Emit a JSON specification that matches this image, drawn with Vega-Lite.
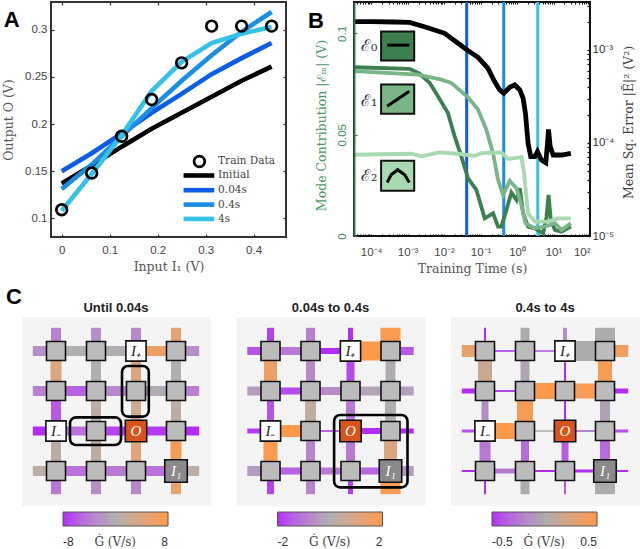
{
"$schema":"https://vega.github.io/schema/vega-lite/v6.json",
"padding":{"left":1,"top":-4,"right":0,"bottom":0},
"config":{"axis":{"grid":false,"domain":false,"tickColor":"#333","tickWidth":1.2,"tickSize":-3,"labelFont":"Liberation Sans","labelFontSize":11.5,"labelColor":"#444","titleFont":"DejaVu Serif","titleFontWeight":"normal","titleFontSize":12.5,"titleColor":"#555"}},
"datasets":{
"curves":[
{"series":"Initial","x":0,"y":0.137},{"series":"Initial","x":0.0625,"y":0.156},{"series":"Initial","x":0.125,"y":0.176},{"series":"Initial","x":0.1875,"y":0.195},{"series":"Initial","x":0.25,"y":0.212},{"series":"Initial","x":0.3125,"y":0.229},{"series":"Initial","x":0.375,"y":0.246},{"series":"Initial","x":0.4375,"y":0.261},
{"series":"0.04s","x":0,"y":0.15},{"series":"0.04s","x":0.0625,"y":0.169},{"series":"0.04s","x":0.125,"y":0.19},{"series":"0.04s","x":0.1875,"y":0.212},{"series":"0.04s","x":0.25,"y":0.232},{"series":"0.04s","x":0.3125,"y":0.253},{"series":"0.04s","x":0.375,"y":0.27},{"series":"0.04s","x":0.4375,"y":0.286},
{"series":"0.4s","x":0,"y":0.131},{"series":"0.4s","x":0.0625,"y":0.157},{"series":"0.4s","x":0.125,"y":0.187},{"series":"0.4s","x":0.1875,"y":0.217},{"series":"0.4s","x":0.25,"y":0.246},{"series":"0.4s","x":0.3125,"y":0.273},{"series":"0.4s","x":0.375,"y":0.298},{"series":"0.4s","x":0.4375,"y":0.319},
{"series":"4s","x":0,"y":0.108},{"series":"4s","x":0.0625,"y":0.147},{"series":"4s","x":0.125,"y":0.188},{"series":"4s","x":0.1875,"y":0.235},{"series":"4s","x":0.25,"y":0.266},{"series":"4s","x":0.3125,"y":0.286},{"series":"4s","x":0.375,"y":0.296},{"series":"4s","x":0.4375,"y":0.303}],
"train":[{"x":0,"y":0.109},{"x":0.0625,"y":0.148},{"x":0.125,"y":0.187},{"x":0.1875,"y":0.226},{"x":0.25,"y":0.265},{"x":0.3125,"y":0.304},{"x":0.375,"y":0.304},{"x":0.4375,"y":0.304},{"x":0.287,"y":0.1603}],
"legendA":[{"series":"Initial","label":"Initial","x":0.254,"x2":0.318,"xt":0.326,"y":0.1454},{"series":"0.04s","label":"0.04s","x":0.254,"x2":0.318,"xt":0.326,"y":0.1298},{"series":"0.4s","label":"0.4s","x":0.254,"x2":0.318,"xt":0.326,"y":0.1145},{"series":"4s","label":"4s","x":0.254,"x2":0.318,"xt":0.326,"y":0.0993},{"series":"Train Data","label":"Train Data","x":0.254,"x2":0.254,"xt":0.326,"y":0.1603}],
"modes":[
{"mode":"E0","t":3.48e-5,"v":0.0833},{"mode":"E0","t":1.13e-3,"v":0.0825},{"mode":"E0","t":2.13e-3,"v":0.0802},{"mode":"E0","t":4.01e-3,"v":0.0756},{"mode":"E0","t":6.79e-3,"v":0.069},{"mode":"E0","t":1.28e-2,"v":0.0607},{"mode":"E0","t":1.95e-2,"v":0.0492},{"mode":"E0","t":2.97e-2,"v":0.0393},{"mode":"E0","t":4.53e-2,"v":0.0285},{"mode":"E0","t":7.67e-2,"v":0.0228},{"mode":"E0","t":0.13,"v":0.00875},{"mode":"E0","t":0.22,"v":0.0112},{"mode":"E0","t":0.302,"v":0.0046},{"mode":"E0","t":0.372,"v":0.0046},{"mode":"E0","t":0.512,"v":0.0129},{"mode":"E0","t":0.701,"v":0.0215},{"mode":"E0","t":0.964,"v":0.0178},{"mode":"E0","t":1.19,"v":0.0236},{"mode":"E0","t":1.47,"v":0.0112},{"mode":"E0","t":2.01,"v":0.0046},{"mode":"E0","t":3.07,"v":0.0038},{"mode":"E0","t":5.2,"v":0.0013},{"mode":"E0","t":6.43,"v":0.0095},{"mode":"E0","t":7.29,"v":0.0203},{"mode":"E0","t":8.45,"v":0.0079},{"mode":"E0","t":10.9,"v":0.003},{"mode":"E0","t":16.6,"v":0.0021},{"mode":"E0","t":29.9,"v":0.0046},
{"mode":"E1","t":3.48e-5,"v":0.0814},{"mode":"E1","t":1.91e-3,"v":0.0797},{"mode":"E1","t":8.38e-3,"v":0.0772},{"mode":"E1","t":1.58e-2,"v":0.0756},{"mode":"E1","t":4.53e-2,"v":0.0685},{"mode":"E1","t":8.51e-2,"v":0.0624},{"mode":"E1","t":0.144,"v":0.0525},{"mode":"E1","t":0.22,"v":0.0409},{"mode":"E1","t":0.302,"v":0.0277},{"mode":"E1","t":0.414,"v":0.0203},{"mode":"E1","t":0.631,"v":0.0272},{"mode":"E1","t":0.964,"v":0.0236},{"mode":"E1","t":1.32,"v":0.0153},{"mode":"E1","t":1.7,"v":0.0063},{"mode":"E1","t":3.07,"v":0.0038},{"mode":"E1","t":5.78,"v":0.0046},{"mode":"E1","t":10.9,"v":0.0063},{"mode":"E1","t":16.6,"v":0.003},{"mode":"E1","t":29.9,"v":0.0063},
{"mode":"E2","t":3.48e-5,"v":0.0401},{"mode":"E2","t":1.26e-3,"v":0.0406},{"mode":"E2","t":2.37e-3,"v":0.0393},{"mode":"E2","t":7.53e-3,"v":0.0413},{"mode":"E2","t":2.41e-2,"v":0.0406},{"mode":"E2","t":0.069,"v":0.0396},{"mode":"E2","t":0.105,"v":0.0409},{"mode":"E2","t":0.372,"v":0.0413},{"mode":"E2","t":0.569,"v":0.038},{"mode":"E2","t":1.32,"v":0.0389},{"mode":"E2","t":1.56,"v":0.031},{"mode":"E2","t":2.01,"v":0.0112},{"mode":"E2","t":3.07,"v":0.0071},{"mode":"E2","t":7.13,"v":0.0071},{"mode":"E2","t":13.4,"v":0.0087},{"mode":"E2","t":29.9,"v":0.0087}],
"mse":[{"t":3.48e-5,"e":2.02e-3},{"t":1e-4,"e":2.02e-3},{"t":4.37e-4,"e":2.0e-3},{"t":1.13e-3,"e":1.98e-3},{"t":2.92e-3,"e":1.78e-3},{"t":1.04e-2,"e":1.51e-3},{"t":2.41e-2,"e":1.18e-3},{"t":4.53e-2,"e":9.84e-4},{"t":8.51e-2,"e":8.34e-4},{"t":0.16,"e":6.35e-4},{"t":0.244,"e":4.56e-4},{"t":0.336,"e":3.72e-4},{"t":0.432,"e":3.42e-4},{"t":0.631,"e":3.97e-4},{"t":0.867,"e":4.21e-4},{"t":1.19,"e":3.72e-4},{"t":1.47,"e":3.02e-4},{"t":1.7,"e":2.08e-4},{"t":2.01,"e":9.9e-5},{"t":2.38,"e":7.13e-5},{"t":3.07,"e":7.13e-5},{"t":3.63,"e":8.07e-5},{"t":4.68,"e":6.56e-5},{"t":6.15,"e":6.15e-5},{"t":6.84,"e":9.9e-5},{"t":7.29,"e":1.4e-4},{"t":8.1,"e":9.14e-5},{"t":9.79,"e":7.43e-5},{"t":16.6,"e":7.43e-5},{"t":29.9,"e":7.74e-5}],
"times":[{"series":"0.04s","t":0.0417},{"series":"0.4s","t":0.432},{"series":"4s","t":3.7}],
"icons":[{"mode":"E0","t":1.88e-4,"t2":1.52e-3,"v":0.101,"v2":0.0866},{"mode":"E1","t":1.88e-4,"t2":1.52e-3,"v":0.0748,"v2":0.0604},{"mode":"E2","t":1.88e-4,"t2":1.52e-3,"v":0.0371,"v2":0.0223}],
"iconCurves":[{"k":"a","t":2.75e-4,"v":0.0942},{"k":"a","t":1.12e-3,"v":0.0942},{"k":"b","t":2.75e-4,"v":0.064},{"k":"b","t":1.12e-3,"v":0.0714},{"k":"c","t":2.75e-4,"v":0.0264},{"k":"c","t":3.55e-4,"v":0.0302},{"k":"c","t":5.37e-4,"v":0.0327},{"k":"c","t":8.3e-4,"v":0.0302},{"k":"c","t":1.12e-3,"v":0.0264}],
"iconLabels":[{"label":"ℰ₀","t":8.9e-5,"v":0.0937},{"label":"ℰ₁","t":8.9e-5,"v":0.0665},{"label":"ℰ₂","t":8.9e-5,"v":0.0295}],
"nodes":[{"x":0,"y":0,"kind":"node"},{"x":1,"y":0,"kind":"node"},{"x":2,"y":0,"kind":"input"},{"x":3,"y":0,"kind":"node"},{"x":0,"y":1,"kind":"node"},{"x":1,"y":1,"kind":"node"},{"x":2,"y":1,"kind":"node"},{"x":3,"y":1,"kind":"node"},{"x":0,"y":2,"kind":"input"},{"x":1,"y":2,"kind":"node"},{"x":2,"y":2,"kind":"output"},{"x":3,"y":2,"kind":"node"},{"x":0,"y":3,"kind":"node"},{"x":1,"y":3,"kind":"node"},{"x":2,"y":3,"kind":"node"},{"x":3,"y":3,"kind":"train"}],
"darkLabels":[{"x":2,"y":0,"label":"I₊"},{"x":0,"y":2,"label":"I₋"}],
"lightLabels":[{"x":2,"y":2,"label":"O"},{"x":3,"y":3,"label":"I₁"}],
"edges1":[
{"x":-0.58,"x2":0,"y":0,"y2":0,"v":-2.5,"g":10},{"x":0,"x2":1,"y":0,"y2":0,"v":0,"g":10},{"x":1,"x2":2,"y":0,"y2":0,"v":-0.2,"g":10},{"x":2,"x2":3,"y":0,"y2":0,"v":6,"g":10},{"x":3,"x2":3.58,"y":0,"y2":0,"v":-2.5,"g":10},
{"x":-0.58,"x2":0,"y":1,"y2":1,"v":-3.5,"g":10},{"x":0,"x2":1,"y":1,"y2":1,"v":-5.5,"g":10},{"x":1,"x2":2,"y":1,"y2":1,"v":-3,"g":10},{"x":2,"x2":3,"y":1,"y2":1,"v":-0.5,"g":10},{"x":3,"x2":3.58,"y":1,"y2":1,"v":-3.5,"g":10},
{"x":-0.58,"x2":0,"y":2,"y2":2,"v":-8,"g":9},{"x":0,"x2":1,"y":2,"y2":2,"v":-4.5,"g":9},{"x":1,"x2":2,"y":2,"y2":2,"v":-7,"g":9},{"x":2,"x2":3,"y":2,"y2":2,"v":-7.5,"g":9},{"x":3,"x2":3.58,"y":2,"y2":2,"v":-8,"g":9},
{"x":-0.58,"x2":0,"y":3,"y2":3,"v":1,"g":10},{"x":0,"x2":1,"y":3,"y2":3,"v":-4.5,"g":10},{"x":1,"x2":2,"y":3,"y2":3,"v":-4,"g":10},{"x":2,"x2":3,"y":3,"y2":3,"v":-4.5,"g":10},{"x":3,"x2":3.58,"y":3,"y2":3,"v":1,"g":10},
{"x":0,"x2":0,"y":-0.58,"y2":0,"v":-3.5,"g":10},{"x":0,"x2":0,"y":0,"y2":1,"v":4,"g":11},{"x":0,"x2":0,"y":1,"y2":2,"v":-6,"g":10},{"x":0,"x2":0,"y":2,"y2":3,"v":1,"g":10},{"x":0,"x2":0,"y":3,"y2":3.58,"v":-4,"g":10},
{"x":1,"x2":1,"y":-0.58,"y2":0,"v":-2.5,"g":10},{"x":1,"x2":1,"y":0,"y2":1,"v":0,"g":10},{"x":1,"x2":1,"y":1,"y2":2,"v":1,"g":10},{"x":1,"x2":1,"y":2,"y2":3,"v":1.2,"g":10},{"x":1,"x2":1,"y":3,"y2":3.58,"v":-2.5,"g":10},
{"x":2,"x2":2,"y":-0.58,"y2":0,"v":-3,"g":10},{"x":2,"x2":2,"y":0,"y2":1,"v":4,"g":10},{"x":2,"x2":2,"y":1,"y2":2,"v":2.5,"g":10},{"x":2,"x2":2,"y":2,"y2":3,"v":4.5,"g":10},{"x":2,"x2":2,"y":3,"y2":3.58,"v":-3,"g":10},
{"x":3,"x2":3,"y":-0.58,"y2":0,"v":5,"g":10},{"x":3,"x2":3,"y":0,"y2":1,"v":0,"g":10},{"x":3,"x2":3,"y":1,"y2":2,"v":1,"g":10},{"x":3,"x2":3,"y":2,"y2":3,"v":7,"g":11},{"x":3,"x2":3,"y":3,"y2":3.58,"v":5.5,"g":10}],
"edges2":[
{"x":-0.58,"x2":0,"y":0,"y2":0,"v":-1.6,"g":8},{"x":0,"x2":1,"y":0,"y2":0,"v":-1,"g":8},{"x":1,"x2":2,"y":0,"y2":0,"v":-2,"g":6},{"x":2,"x2":3,"y":0,"y2":0,"v":2,"g":19},{"x":3,"x2":3.58,"y":0,"y2":0,"v":-1.5,"g":8},
{"x":-0.58,"x2":0,"y":1,"y2":1,"v":-0.4,"g":9},{"x":0,"x2":1,"y":1,"y2":1,"v":-1.7,"g":7},{"x":1,"x2":2,"y":1,"y2":1,"v":-0.7,"g":8},{"x":2,"x2":3,"y":1,"y2":1,"v":-0.2,"g":9},{"x":3,"x2":3.58,"y":1,"y2":1,"v":-0.3,"g":9},
{"x":-0.58,"x2":0,"y":2,"y2":2,"v":-1.9,"g":5},{"x":0,"x2":1,"y":2,"y2":2,"v":2,"g":12},{"x":1,"x2":2,"y":2,"y2":2,"v":-2,"g":1.5},{"x":2,"x2":3,"y":2,"y2":2,"v":-2,"g":6},{"x":3,"x2":3.58,"y":2,"y2":2,"v":-2,"g":5},
{"x":-0.58,"x2":0,"y":3,"y2":3,"v":-0.4,"g":10},{"x":0,"x2":1,"y":3,"y2":3,"v":-1.4,"g":7},{"x":1,"x2":2,"y":3,"y2":3,"v":-1,"g":7},{"x":2,"x2":3,"y":3,"y2":3,"v":-1.3,"g":7},{"x":3,"x2":3.58,"y":3,"y2":3,"v":-0.4,"g":10},
{"x":0,"x2":0,"y":-0.58,"y2":0,"v":-1.8,"g":7},{"x":0,"x2":0,"y":0,"y2":1,"v":1.5,"g":13},{"x":0,"x2":0,"y":1,"y2":2,"v":-1.6,"g":7},{"x":0,"x2":0,"y":2,"y2":3,"v":1.9,"g":14},{"x":0,"x2":0,"y":3,"y2":3.58,"v":-1.8,"g":7},
{"x":1,"x2":1,"y":-0.58,"y2":0,"v":-0.9,"g":9},{"x":1,"x2":1,"y":0,"y2":1,"v":-0.7,"g":9},{"x":1,"x2":1,"y":1,"y2":2,"v":0.3,"g":11},{"x":1,"x2":1,"y":2,"y2":3,"v":-0.8,"g":9},{"x":1,"x2":1,"y":3,"y2":3.58,"v":-0.8,"g":9},
{"x":2,"x2":2,"y":-0.58,"y2":0,"v":-2,"g":5},{"x":2,"x2":2,"y":0,"y2":1,"v":-1.7,"g":8},{"x":2,"x2":2,"y":1,"y2":2,"v":-1,"g":9},{"x":2,"x2":2,"y":2,"y2":3,"v":-1,"g":9},{"x":2,"x2":2,"y":3,"y2":3.58,"v":-1.8,"g":5},
{"x":3,"x2":3,"y":-0.58,"y2":0,"v":1.9,"g":20},{"x":3,"x2":3,"y":0,"y2":1,"v":-0.1,"g":10},{"x":3,"x2":3,"y":1,"y2":2,"v":0,"g":11},{"x":3,"x2":3,"y":2,"y2":3,"v":1,"g":13},{"x":3,"x2":3,"y":3,"y2":3.58,"v":1.8,"g":20}],
"edges3":[
{"x":-0.58,"x2":0,"y":0,"y2":0,"v":0.35,"g":12},{"x":0,"x2":1,"y":0,"y2":0,"v":-0.5,"g":1.5},{"x":1,"x2":2,"y":0,"y2":0,"v":-0.4,"g":1.5},{"x":2,"x2":3,"y":0,"y2":0,"v":0,"g":20},{"x":3,"x2":3.58,"y":0,"y2":0,"v":0.4,"g":12},
{"x":-0.58,"x2":0,"y":1,"y2":1,"v":-0.5,"g":5},{"x":0,"x2":1,"y":1,"y2":1,"v":-0.45,"g":2},{"x":1,"x2":2,"y":1,"y2":1,"v":0.5,"g":16},{"x":2,"x2":3,"y":1,"y2":1,"v":0.45,"g":15},{"x":3,"x2":3.58,"y":1,"y2":1,"v":-0.5,"g":5},
{"x":-0.58,"x2":0,"y":2,"y2":2,"v":-0.4,"g":3},{"x":0,"x2":1,"y":2,"y2":2,"v":0.5,"g":16},{"x":1,"x2":2,"y":2,"y2":2,"v":0,"g":1.5},{"x":2,"x2":3,"y":2,"y2":2,"v":-0.2,"g":2},{"x":3,"x2":3.58,"y":2,"y2":2,"v":-0.4,"g":3},
{"x":-0.58,"x2":0,"y":3,"y2":3,"v":-0.5,"g":2},{"x":0,"x2":1,"y":3,"y2":3,"v":-0.25,"g":5},{"x":1,"x2":2,"y":3,"y2":3,"v":-0.5,"g":2},{"x":2,"x2":3,"y":3,"y2":3,"v":-0.5,"g":3},{"x":3,"x2":3.58,"y":3,"y2":3,"v":-0.5,"g":2},
{"x":0,"x2":0,"y":-0.58,"y2":0,"v":-0.5,"g":2},{"x":0,"x2":0,"y":0,"y2":1,"v":0.15,"g":14},{"x":0,"x2":0,"y":1,"y2":2,"v":-0.15,"g":7},{"x":0,"x2":0,"y":2,"y2":3,"v":-0.25,"g":11},{"x":0,"x2":0,"y":3,"y2":3.58,"v":-0.5,"g":2},
{"x":1,"x2":1,"y":-0.58,"y2":0,"v":0,"g":9},{"x":1,"x2":1,"y":0,"y2":1,"v":-0.03,"g":9},{"x":1,"x2":1,"y":1,"y2":2,"v":0.45,"g":16},{"x":1,"x2":1,"y":2,"y2":3,"v":-0.3,"g":8},{"x":1,"x2":1,"y":3,"y2":3.58,"v":0,"g":9},
{"x":2,"x2":2,"y":-0.58,"y2":0,"v":-0.15,"g":4},{"x":2,"x2":2,"y":0,"y2":1,"v":-0.5,"g":2},{"x":2,"x2":2,"y":1,"y2":2,"v":-0.5,"g":2},{"x":2,"x2":2,"y":2,"y2":3,"v":-0.35,"g":7},{"x":2,"x2":2,"y":3,"y2":3.58,"v":-0.4,"g":2},
{"x":3,"x2":3,"y":-0.58,"y2":0,"v":0,"g":20},{"x":3,"x2":3,"y":0,"y2":1,"v":0.45,"g":14},{"x":3,"x2":3,"y":1,"y2":2,"v":-0.05,"g":10},{"x":3,"x2":3,"y":2,"y2":3,"v":-0.3,"g":10},{"x":3,"x2":3,"y":3,"y2":3.58,"v":0,"g":20}]
},
"resolve":{"scale":{"color":"independent","fill":"independent","size":"independent"}},
"spacing":315,"bounds":"flush","align":"none",
"vconcat":[
{"spacing":28,"bounds":"flush","align":"none","resolve":{"scale":{"color":"independent"}},"hconcat":[
 {"width":1,"height":1,"view":{"stroke":null},"data":{"values":[{"a":0}]},"mark":{"type":"text","text":""},"encoding":{}},
 {"spacing":68,"bounds":"flush","align":"none","resolve":{"scale":{"color":"independent"}},"hconcat":[
  {"width":235,"height":235,"view":{"stroke":"#333","strokeWidth":2},
   "resolve":{"axis":{"x":"independent","y":"independent"}},
   "encoding":{"x":{"field":"x","type":"quantitative","axis":null,"scale":{"domain":[-0.0223,0.4675],"nice":false,"zero":false}},"y":{"field":"y","type":"quantitative","axis":null,"scale":{"domain":[0.0801,0.3296],"nice":false,"zero":false}}},
   "layer":[
    {"data":{"name":"curves"},"mark":{"type":"line","strokeWidth":4.6},
     "encoding":{"x":{"field":"x","type":"quantitative","scale":{"domain":[-0.0223,0.4675],"nice":false,"zero":false},"axis":{"values":[0,0.1,0.2,0.3,0.4],"format":"~g","title":"Input I₁ (V)","labelPadding":10,"titlePadding":5}},
      "y":{"field":"y","type":"quantitative","scale":{"domain":[0.0801,0.3296],"nice":false,"zero":false},"axis":{"values":[0.1,0.15,0.2,0.25,0.3],"format":"~g","title":"Output O (V)","labelPadding":7,"titlePadding":9}},
      "order":{"field":"x"},
      "color":{"field":"series","type":"nominal","legend":null,"scale":{"domain":["Initial","0.04s","0.4s","4s"],"range":["#000000","#0b5ce6","#1a8ee4","#36c1e8"]}}}},
    {"data":{"name":"train"},"mark":{"type":"point","filled":false,"stroke":"#000","strokeWidth":2.7,"size":115,"opacity":1},
     "encoding":{"x":{"field":"x","type":"quantitative","axis":{"orient":"top","values":[0,0.1,0.2,0.3,0.4],"labels":false,"title":null}},
      "y":{"field":"y","type":"quantitative","axis":{"orient":"right","values":[0.1,0.15,0.2,0.25,0.3],"labels":false,"title":null}}}},
    {"data":{"name":"legendA"},"transform":[{"filter":"datum.x2>datum.x"}],"mark":{"type":"rule","strokeWidth":4.6},
     "encoding":{"x2":{"field":"x2"},"color":{"field":"series","type":"nominal","legend":null}}},
    {"data":{"name":"legendA"},"mark":{"type":"text","align":"left","baseline":"middle","font":"DejaVu Serif","fontSize":10.5,"color":"#444"},
     "encoding":{"x":{"field":"xt","type":"quantitative","axis":null},"text":{"field":"label"}}},
    {"data":{"values":[{"x":-0.104,"y":0.31,"label":"A"}]},"mark":{"type":"text","font":"Liberation Sans","fontWeight":"bold","fontSize":22,"color":"#000","baseline":"middle"},
     "encoding":{"text":{"field":"label"}}}
   ]},
  {"width":236,"height":234,"view":{"stroke":"#111","strokeWidth":2},
   "resolve":{"scale":{"y":"independent"},"axis":{"x":"independent","y":"independent"}},
   "layer":[
    {"encoding":{"x":{"field":"t","type":"quantitative","scale":{"type":"log","domain":[3.4e-5,100],"nice":false},
       "axis":{"values":[4e-5,5e-5,6e-5,7e-5,8e-5,9e-5,1e-4,2e-4,3e-4,4e-4,5e-4,6e-4,7e-4,8e-4,9e-4,1e-3,2e-3,3e-3,4e-3,5e-3,6e-3,7e-3,8e-3,9e-3,1e-2,2e-2,3e-2,4e-2,5e-2,6e-2,7e-2,8e-2,9e-2,0.1,0.2,0.3,0.4,0.5,0.6,0.7,0.8,0.9,1,2,3,4,5,6,7,8,9,10,20,30,40,50,60,70,80,90,100],"tickSize":-2,"tickWidth":1,"tickColor":"#111","labelOverlap":false,"labelPadding":12,"titlePadding":5,"title":"Training Time (s)","labelExpr":"datum.value==0.0001?'10⁻⁴':datum.value==0.001?'10⁻³':datum.value==0.01?'10⁻²':datum.value==0.1?'10⁻¹':datum.value==1?'10⁰':datum.value==10?'10¹':datum.value==100?'10²':''"}},
      "y":{"field":"v","type":"quantitative","scale":{"domain":[0,0.1155],"nice":false,"zero":false},
       "axis":{"values":[0,0.05,0.1],"format":"~g","domain":true,"domainColor":"#2e7a45","domainWidth":2,"zindex":1,"tickColor":"#2e7a45","labelColor":"#3f8a57","titleColor":"#4a9a62","labelAngle":-90,"labelAlign":"center","labelBaseline":"bottom","labelPadding":10,"titlePadding":8,"titleY":123,"title":"Mode Contribution |ℰₘ| (V)"}}},
     "layer":[
      {"data":{"name":"times"},"mark":{"type":"rule","strokeWidth":3},"encoding":{"y":null,"color":{"field":"series","type":"nominal","legend":null,"scale":{"domain":["MSE","E0","E1","E2","0.04s","0.4s","4s"],"range":["#000000","#3c8050","#7ab587","#a9d9b0","#0b5ce6","#1a8ee4","#36c1e8"]}}}},
      {"data":{"name":"modes"},"mark":{"type":"line","strokeWidth":3.8},"encoding":{"order":{"field":"t"},"color":{"field":"mode","type":"nominal","legend":null}}},
      {"data":{"name":"icons"},"mark":{"type":"rect","stroke":"#111","strokeWidth":2},"encoding":{"x2":{"field":"t2"},"y2":{"field":"v2"},"color":{"field":"mode","type":"nominal","legend":null}}},
      {"data":{"name":"iconCurves"},"mark":{"type":"line","color":"#000","strokeWidth":3},"encoding":{"detail":{"field":"k"},"order":{"field":"t"}}},
      {"data":{"name":"iconLabels"},"mark":{"type":"text","font":"DejaVu Serif","fontSize":16,"color":"#333","baseline":"middle"},"encoding":{"text":{"field":"label"}}},
      {"data":{"values":[{"t":3.1e-6,"v":0.1062,"label":"B"}]},"mark":{"type":"text","font":"Liberation Sans","fontWeight":"bold","fontSize":22,"color":"#000","baseline":"middle"},"encoding":{"text":{"field":"label"}}}
     ]},
    {"data":{"name":"mse"},"mark":{"type":"line","color":"#000","strokeWidth":4.8},
     "encoding":{"order":{"field":"t"},"x":{"field":"t","type":"quantitative","scale":{"type":"log","domain":[3.4e-5,100],"nice":false},
       "axis":{"orient":"top","values":[4e-5,5e-5,6e-5,7e-5,8e-5,9e-5,1e-4,2e-4,3e-4,4e-4,5e-4,6e-4,7e-4,8e-4,9e-4,1e-3,2e-3,3e-3,4e-3,5e-3,6e-3,7e-3,8e-3,9e-3,1e-2,2e-2,3e-2,4e-2,5e-2,6e-2,7e-2,8e-2,9e-2,0.1,0.2,0.3,0.4,0.5,0.6,0.7,0.8,0.9,1,2,3,4,5,6,7,8,9,10,20,30,40,50,60,70,80,90,100],"tickSize":-2,"tickWidth":1,"tickColor":"#111","labels":false,"title":null}},
      "y":{"field":"e","type":"quantitative","scale":{"type":"log","domain":[1e-5,3.28e-3],"nice":false},
       "axis":{"orient":"right","values":[1e-5,2e-5,3e-5,4e-5,5e-5,6e-5,7e-5,8e-5,9e-5,1e-4,2e-4,3e-4,4e-4,5e-4,6e-4,7e-4,8e-4,9e-4,1e-3,2e-3,3e-3],"tickColor":"#111","tickSize":-3,"labelOverlap":false,"labelPadding":5,"labelColor":"#333","titlePadding":22,"titleAngle":270,"titleColor":"#444","titleY":120,"title":"Mean Sq. Error |Ē|² (V²)","labelExpr":"datum.value==0.00001?'10⁻⁵':datum.value==0.0001?'10⁻⁴':datum.value==0.001?'10⁻³':''"}}}}
   ]}
 ]}
]},
{"spacing":25.5,"bounds":"flush","align":"none","resolve":{"scale":{"color":"independent","fill":"independent","size":"independent"}},"hconcat":[
 {"width":189,"height":189,"view":{"fill":"#f4f4f4","stroke":null},
  "encoding":{"x":{"field":"x","type":"quantitative","axis":null,"scale":{"domain":[-0.85,3.875],"nice":false,"zero":false}},"y":{"field":"y","type":"quantitative","axis":null,"scale":{"domain":[3.875,-0.85],"nice":false,"zero":false}}},
  "layer":[
   {"data":{"name":"edges1"},"mark":{"type":"rule"},"encoding":{"x2":{"field":"x2"},"y2":{"field":"y2"},"size":{"field":"g","type":"quantitative","legend":null,"scale":{"domain":[0,20],"range":[0,20],"zero":false}},"color":{"field":"v","type":"quantitative","scale":{"domain":[-8,0,8],"range":["#b32df7","#b0b0b0","#fd9a4a"]},"legend":{"orient":"none","legendX":41,"legendY":195,"direction":"horizontal","title":null,"gradientLength":105,"gradientThickness":14,"values":[-8,8],"labelExpr":"''+datum.value","gradientStrokeColor":"#555","gradientStrokeWidth":1,"labelFont":"Liberation Sans","labelFontSize":12,"labelColor":"#333","labelOffset":11,"encoding":{"labels":{"update":{"align":{"value":"center"}}}}}}}},
   {"data":{"values":[{"x":1.65,"x2":2.32,"y":0.375,"y2":1.64},{"x":0.35,"x2":1.625,"y":1.66,"y2":2.35}]},"mark":{"type":"rect","fill":null,"stroke":"#000","strokeWidth":2.6,"cornerRadius":6},"encoding":{"x2":{"field":"x2"},"y2":{"field":"y2"}}},
   {"data":{"name":"nodes"},"mark":{"type":"square","stroke":"#111","strokeWidth":1.6,"opacity":1},"encoding":{"fill":{"field":"kind","type":"nominal","legend":null,"scale":{"domain":["node","input","output","train"],"range":["#bcbcbc","#ffffff","#d9541a","#8a8a8a"]}},"size":{"field":"kind","type":"nominal","legend":null,"scale":{"domain":["node","input","output","train"],"range":[361,506,506,506]}}}},
   {"data":{"name":"darkLabels"},"mark":{"type":"text","font":"Liberation Serif","fontStyle":"italic","fontSize":15,"color":"#222","baseline":"middle"},"encoding":{"text":{"field":"label"}}},
   {"data":{"name":"lightLabels"},"mark":{"type":"text","font":"Liberation Serif","fontStyle":"italic","fontSize":15,"color":"#fff","baseline":"middle"},"encoding":{"text":{"field":"label"}}},
   {"data":{"values":[{"x":1.48,"y":4.77,"label":"Ġ (V/s)"}]},"mark":{"type":"text","font":"DejaVu Serif","fontSize":12,"color":"#444","baseline":"middle"},"encoding":{"text":{"field":"label"}}},
   {"data":{"values":[{"x":1.5,"y":-1.075,"label":"Until 0.04s"}]},"mark":{"type":"text","font":"Liberation Sans","fontWeight":"bold","fontSize":13,"color":"#222","baseline":"middle"},"encoding":{"text":{"field":"label"}}},
   {"data":{"values":[{"x":-1.05,"y":-1.35,"label":"C"}]},"mark":{"type":"text","font":"Liberation Sans","fontWeight":"bold","fontSize":22,"color":"#000","baseline":"middle"},"encoding":{"text":{"field":"label"}}}
  ]},
 {"width":189,"height":189,"view":{"fill":"#f4f4f4","stroke":null},
  "encoding":{"x":{"field":"x","type":"quantitative","axis":null,"scale":{"domain":[-0.85,3.875],"nice":false,"zero":false}},"y":{"field":"y","type":"quantitative","axis":null,"scale":{"domain":[3.875,-0.85],"nice":false,"zero":false}}},
  "layer":[
   {"data":{"name":"edges2"},"mark":{"type":"rule"},"encoding":{"x2":{"field":"x2"},"y2":{"field":"y2"},"size":{"field":"g","type":"quantitative","legend":null,"scale":{"domain":[0,20],"range":[0,20],"zero":false}},"color":{"field":"v","type":"quantitative","scale":{"domain":[-2,0,2],"range":["#b32df7","#b0b0b0","#fd9a4a"]},"legend":{"orient":"none","legendX":41,"legendY":195,"direction":"horizontal","title":null,"gradientLength":105,"gradientThickness":14,"values":[-2,2],"labelExpr":"''+datum.value","gradientStrokeColor":"#555","gradientStrokeWidth":1,"labelFont":"Liberation Sans","labelFontSize":12,"labelColor":"#333","labelOffset":11,"encoding":{"labels":{"update":{"align":{"value":"center"}}}}}}}},
   {"data":{"values":[{"x":1.59,"x2":3.425,"y":1.6,"y2":3.41}]},"mark":{"type":"rect","fill":null,"stroke":"#000","strokeWidth":2.6,"cornerRadius":6},"encoding":{"x2":{"field":"x2"},"y2":{"field":"y2"}}},
   {"data":{"name":"nodes"},"mark":{"type":"square","stroke":"#111","strokeWidth":1.6,"opacity":1},"encoding":{"fill":{"field":"kind","type":"nominal","legend":null,"scale":{"domain":["node","input","output","train"],"range":["#bcbcbc","#ffffff","#d9541a","#8a8a8a"]}},"size":{"field":"kind","type":"nominal","legend":null,"scale":{"domain":["node","input","output","train"],"range":[361,506,506,506]}}}},
   {"data":{"name":"darkLabels"},"mark":{"type":"text","font":"Liberation Serif","fontStyle":"italic","fontSize":15,"color":"#222","baseline":"middle"},"encoding":{"text":{"field":"label"}}},
   {"data":{"name":"lightLabels"},"mark":{"type":"text","font":"Liberation Serif","fontStyle":"italic","fontSize":15,"color":"#fff","baseline":"middle"},"encoding":{"text":{"field":"label"}}},
   {"data":{"values":[{"x":1.48,"y":4.77,"label":"Ġ (V/s)"}]},"mark":{"type":"text","font":"DejaVu Serif","fontSize":12,"color":"#444","baseline":"middle"},"encoding":{"text":{"field":"label"}}},
   {"data":{"values":[{"x":1.5,"y":-1.075,"label":"0.04s to 0.4s"}]},"mark":{"type":"text","font":"Liberation Sans","fontWeight":"bold","fontSize":13,"color":"#222","baseline":"middle"},"encoding":{"text":{"field":"label"}}}
  ]},
 {"width":189,"height":189,"view":{"fill":"#f4f4f4","stroke":null},
  "encoding":{"x":{"field":"x","type":"quantitative","axis":null,"scale":{"domain":[-0.85,3.875],"nice":false,"zero":false}},"y":{"field":"y","type":"quantitative","axis":null,"scale":{"domain":[3.875,-0.85],"nice":false,"zero":false}}},
  "layer":[
   {"data":{"name":"edges3"},"mark":{"type":"rule"},"encoding":{"x2":{"field":"x2"},"y2":{"field":"y2"},"size":{"field":"g","type":"quantitative","legend":null,"scale":{"domain":[0,20],"range":[0,20],"zero":false}},"color":{"field":"v","type":"quantitative","scale":{"domain":[-0.5,0,0.5],"range":["#b32df7","#acacac","#fd9a4a"]},"legend":{"orient":"none","legendX":41,"legendY":195,"direction":"horizontal","title":null,"gradientLength":105,"gradientThickness":14,"values":[-0.5,0.5],"labelExpr":"''+datum.value","gradientStrokeColor":"#555","gradientStrokeWidth":1,"labelFont":"Liberation Sans","labelFontSize":12,"labelColor":"#333","labelOffset":11,"encoding":{"labels":{"update":{"align":{"value":"center"}}}}}}}},
   {"data":{"name":"nodes"},"mark":{"type":"square","stroke":"#111","strokeWidth":1.6,"opacity":1},"encoding":{"fill":{"field":"kind","type":"nominal","legend":null,"scale":{"domain":["node","input","output","train"],"range":["#bcbcbc","#ffffff","#d9541a","#8a8a8a"]}},"size":{"field":"kind","type":"nominal","legend":null,"scale":{"domain":["node","input","output","train"],"range":[361,506,506,506]}}}},
   {"data":{"name":"darkLabels"},"mark":{"type":"text","font":"Liberation Serif","fontStyle":"italic","fontSize":15,"color":"#222","baseline":"middle"},"encoding":{"text":{"field":"label"}}},
   {"data":{"name":"lightLabels"},"mark":{"type":"text","font":"Liberation Serif","fontStyle":"italic","fontSize":15,"color":"#fff","baseline":"middle"},"encoding":{"text":{"field":"label"}}},
   {"data":{"values":[{"x":1.48,"y":4.77,"label":"Ġ (V/s)"}]},"mark":{"type":"text","font":"DejaVu Serif","fontSize":12,"color":"#444","baseline":"middle"},"encoding":{"text":{"field":"label"}}},
   {"data":{"values":[{"x":1.5,"y":-1.075,"label":"0.4s to 4s"}]},"mark":{"type":"text","font":"Liberation Sans","fontWeight":"bold","fontSize":13,"color":"#222","baseline":"middle"},"encoding":{"text":{"field":"label"}}}
  ]}
]}
]}
